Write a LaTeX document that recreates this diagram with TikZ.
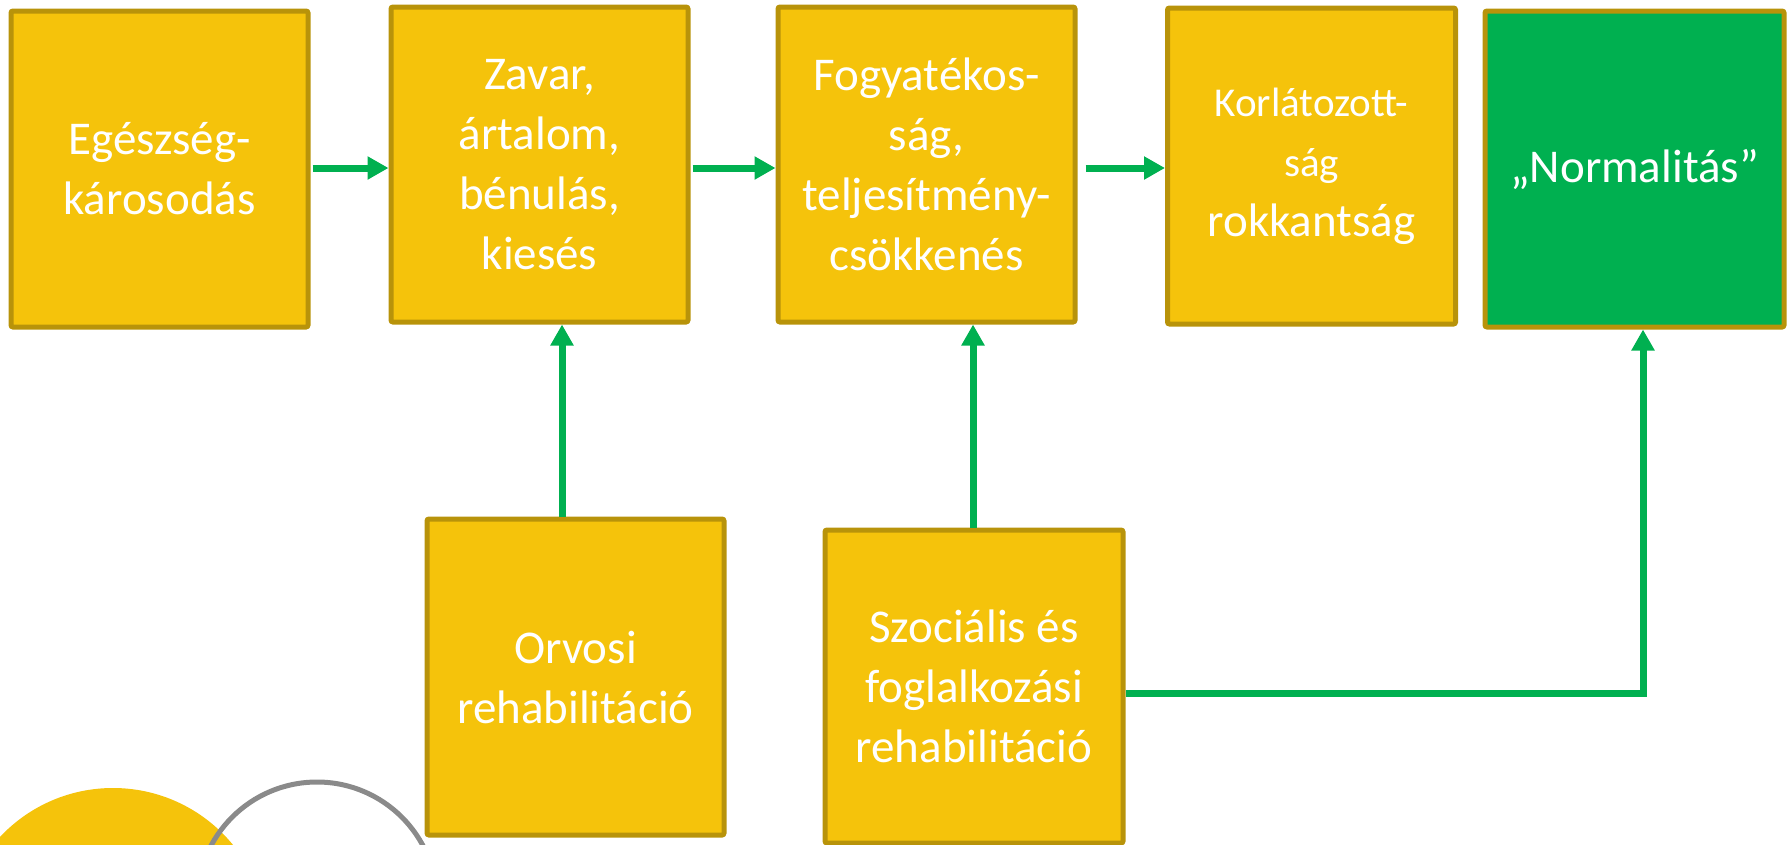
\documentclass[tikz,border=0pt]{standalone}
\usepackage{fontspec}
\setmainfont{Carlito}
\usetikzlibrary{arrows.meta,calc}
\definecolor{boxfill}{HTML}{F5C30B}
\definecolor{boxline}{HTML}{B8930A}
\definecolor{arrowgreen}{HTML}{00B050}
\definecolor{ringgray}{HTML}{8A8A8A}
\tikzset{
  stagebox/.style={draw=boxline, line width=5pt, fill=boxfill, rounded corners=2pt,
    inner sep=0pt, text=white, align=center, font=\fontsize{47}{60}\selectfont},
  goalbox/.style={stagebox, fill=arrowgreen},
  flow/.style={draw=arrowgreen, line width=7pt, -{Triangle[length=21pt,width=22pt]}}
}
\begin{document}
\begin{tikzpicture}[x=1pt,y=-1pt]
\useasboundingbox (0,0) rectangle (1787,844);
\begin{scope}
\clip (0,0) rectangle (1787,844);
\fill[boxfill] (113,943) circle[radius=155];
\draw[ringgray, line width=5pt] (317,902) circle[radius=120];
\end{scope}
% top row
\node[stagebox, minimum width=297pt, minimum height=316pt] (a) at (159.5,169) {Egészség-\\károsodás};
\node[stagebox, minimum width=297pt, minimum height=315pt] (b) at (539.5,164.5) {Zavar,\\ártalom,\\bénulás,\\kiesés};
\node[stagebox, minimum width=297pt, minimum height=315pt] (c) at (926.5,164.5) {Fogyatékos-\\ság,\\teljesítmény-\\csökkenés};
\node[stagebox, minimum width=288pt, minimum height=316pt] (d) at (1311.5,166) {\fontsize{41}{60}\selectfont Korlátozott-\\\fontsize{41}{60}\selectfont ság\\\fontsize{47}{60}\selectfont rokkantság};
\node[goalbox, minimum width=299pt, minimum height=316pt] (e) at (1634.5,169) {„Normalitás”};
% bottom row
\node[stagebox, minimum width=297pt, minimum height=316pt] (f) at (575.5,677) {Orvosi\\rehabilitáció};
\node[stagebox, minimum width=298pt, minimum height=313pt] (g) at (974,686.5) {Szociális és\\foglalkozási\\rehabilitáció};
% connectors
\draw[flow] (a.east |- 0,168) ++(2,0) coordinate (a1) -- (b.west |- a1);
\draw[flow] (b.east |- 0,168) ++(2,0) coordinate (b1) -- (c.west |- b1);
\draw[flow] (c.east |- 0,168) ++(8,0) coordinate (c1) -- (d.west |- c1);
\draw[flow] (f.north -| 562,0) -- (b.south -| 562,0);
\draw[flow] (g.north -| 973,0) -- (c.south -| 973,0);
\draw[flow] (g.east |- 0,693) -- (1643,693) -- (e.south -| 1643,0);
\end{tikzpicture}
\end{document}
